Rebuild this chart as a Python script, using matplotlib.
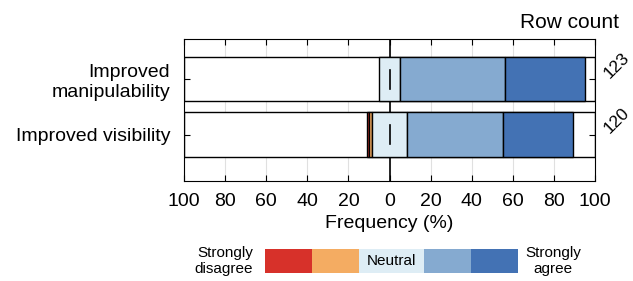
import matplotlib
matplotlib.use("Agg")
import matplotlib.pyplot as plt
import numpy as np

plt.rcParams['font.family'] = ['Liberation Sans', 'DejaVu Sans']

categories = ["Improved\nmanipulability", "Improved visibility"]
row_counts = [123, 120]
levels = ["Strongly disagree", "Disagree", "Neutral", "Agree", "Strongly agree"]
counts_manip = [0, 0, 12, 63, 48]
counts_vis = [1, 2, 20, 56, 41]
colors = ["#d7312a", "#f4ac62", "#deedf5", "#85aad0", "#4372b4"]
xticks = [-100, -80, -60, -40, -20, 0, 20, 40, 60, 80, 100]
xticklabels = ["100", "80", "60", "40", "20", "0", "20", "40", "60", "80", "100"]
legend_widths = [1, 1, 1.4, 1, 1]

fig = plt.figure(figsize=(6.33, 2.81), dpi=100)
ax = fig.add_axes([184/633, 100/281, 411/633, 141.7/281])

for x in xticks:
    ax.axvline(x, color="#e0e0e0", linewidth=0.8, zorder=0)
ax.axvline(0, color="black", linewidth=1.2, zorder=0.5)

data = [counts_manip, counts_vis]
for i, (cnts, n) in enumerate(zip(data, row_counts)):
    ax.barh(i, 200, left=-100, height=0.8, color="white",
            edgecolor="black", linewidth=1.0, zorder=1)
    pct = np.array(cnts) / n * 100
    left = -(pct[0] + pct[1] + pct[2] / 2)
    for j, p in enumerate(pct):
        if p > 0:
            ax.barh(i, p, left=left, height=0.8, color=colors[j],
                    edgecolor="black", linewidth=1.0, zorder=2)
        left += p
    ax.plot([0, 0], [i - 0.17, i + 0.17], color="black", linewidth=1.2, zorder=3)

ax.set_xlim(-100, 100)
ax.set_ylim(1.84, -0.72)
ax.set_xticks(xticks)
ax.set_xticklabels(xticklabels, fontsize=14)
ax.set_yticks([0, 1])
ax.set_yticklabels(categories, fontsize=14)
ax.tick_params(axis='both', direction='in', length=4, width=0.8,
               top=True, bottom=True, left=True, right=True)
ax.tick_params(axis='x', pad=9)
ax.tick_params(axis='y', pad=10)
ax.set_xlabel("Frequency (%)", fontsize=14, labelpad=3)
for s in ax.spines.values():
    s.set_linewidth(0.8)
    s.set_zorder(4)

for i, n in enumerate(row_counts):
    ax.text(1.053, i - 0.25, str(n), transform=ax.get_yaxis_transform(),
            rotation=45, ha="center", va="center", fontsize=12.5)
fig.text(619/633, 1 - 22/281, "Row count", ha="right", va="center", fontsize=15)

lax = fig.add_axes([265/633, 7.7/281, 253/633, 24.3/281])
lw = np.array(legend_widths)
lefts = np.concatenate([[0], np.cumsum(lw)[:-1]])
lax.barh(0, lw, left=lefts, height=1, color=colors, linewidth=0)
lax.set_xlim(0, lw.sum())
lax.set_ylim(-0.5, 0.5)
lax.axis("off")
lax.text(lefts[2] + lw[2] / 2, 0, "Neutral", ha="center", va="center", fontsize=11)
fig.text(253/633, 1 - 261/281, "Strongly\ndisagree", ha="right", va="center",
         fontsize=11, linespacing=1.1)
fig.text(553/633, 1 - 261/281, "Strongly\nagree", ha="center", va="center",
         fontsize=11, linespacing=1.1)

fig.savefig("out.png", dpi=100)
